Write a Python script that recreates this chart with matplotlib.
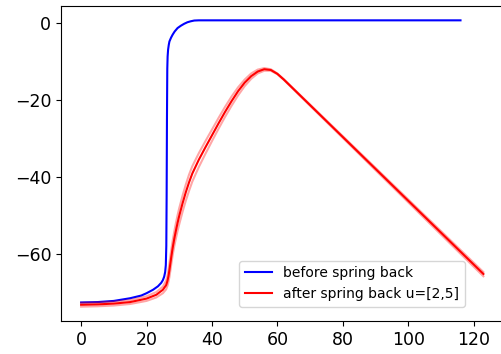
import numpy as np
import matplotlib
matplotlib.use("Agg")
import matplotlib.pyplot as plt
from matplotlib.ticker import MultipleLocator

# curve before spring back
blue_x = [0, 5, 10, 15, 18.4, 20, 22, 23.5, 24.5, 25.0, 25.4, 25.7, 25.9, 26.05, 26.15,
          26.25, 26.35, 26.45, 26.6, 26.8, 27.0, 27.5, 28.0, 28.6, 29.5, 30.5, 31.5,
          32.5, 33.5, 34.6, 36, 60, 90, 116]
blue_y = [-72.7, -72.6, -72.3, -71.6, -70.9, -70.3, -69.4, -68.5, -67.6, -66.9, -66.0,
          -64.8, -63.0, -58.0, -45.0, -25.0, -12.0, -8.8, -7.0, -5.8, -4.9, -3.9, -3.1,
          -2.3, -1.4, -0.8, -0.3, 0.1, 0.35, 0.55, 0.6, 0.6, 0.6, 0.6]

# curves after spring back, u = 2, 3.5, 5
red_x = [0, 5, 10, 15, 20, 23, 25, 26, 26.4, 26.7, 27.0, 27.3, 27.6, 28.0, 28.5, 29,
         29.5, 30, 31, 32, 33, 34, 36, 38, 40, 42, 44, 46, 48, 50, 52, 54, 56, 58, 60,
         62, 123]
red_u2 = [-73.8, -73.7, -73.5, -73.1, -72.3, -71.4, -70.3, -69.3, -68.4, -67.4, -66.1,
          -64.4, -62.6, -60.4, -58.0, -56.0, -54.1, -52.4, -49.2, -46.3, -43.7, -41.3,
          -37.5, -34.1, -30.8, -27.6, -24.5, -21.6, -18.9, -16.5, -14.6, -13.2, -12.5,
          -12.5, -13.4, -14.9, -65.9]
red_u35 = [-73.3, -73.2, -73.0, -72.6, -71.7, -70.7, -69.4, -68.2, -67.1, -65.9, -64.3,
           -62.5, -60.7, -58.5, -56.1, -54.0, -52.0, -50.2, -47.0, -44.1, -41.5, -39.2,
           -35.6, -32.4, -29.3, -26.2, -23.2, -20.4, -17.8, -15.6, -13.9, -12.7, -12.1,
           -12.3, -13.3, -14.8, -65.3]
red_u5 = [-72.8, -72.7, -72.5, -72.1, -71.1, -70.0, -68.6, -67.0, -65.8, -64.3, -62.5,
          -60.6, -58.8, -56.6, -54.2, -52.0, -50.0, -48.2, -45.0, -42.1, -39.5, -37.3,
          -33.9, -30.8, -27.8, -24.8, -21.9, -19.2, -16.8, -14.8, -13.2, -12.2, -11.8,
          -12.1, -13.2, -14.7, -64.8]

fig = plt.figure(figsize=(5.02, 3.54), dpi=100)
ax = fig.add_axes([0.1215, 0.0932, 0.8815, 0.8898])

ax.plot(blue_x, blue_y, color="blue", lw=1.5, label="before spring back")
ax.plot(red_x, red_u2, color="red", lw=1.5, alpha=0.35)
ax.plot(red_x, red_u5, color="red", lw=1.5, alpha=0.35)
ax.plot(red_x, red_u35, color="red", lw=1.5, label="after spring back u=[2,5]")

ax.yaxis.set_major_locator(MultipleLocator(20))
ax.tick_params(labelsize=12.5)
ax.legend(loc="lower right", bbox_to_anchor=(0.913, 0.045), borderaxespad=0, fontsize=10)

fig.savefig("out.png", dpi=100)
